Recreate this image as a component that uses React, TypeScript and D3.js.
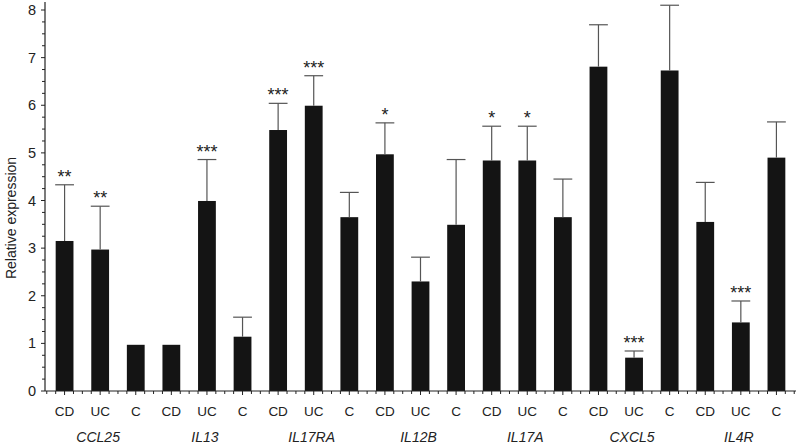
import React from "react";
import * as d3 from "d3";

const genes = ["CCL25", "IL13", "IL17RA", "IL12B", "IL17A", "CXCL5", "IL4R"];
const groups = ["CD", "UC", "C"];
const means = [3.15, 2.97, 0.97, 0.97, 3.99, 1.14, 5.48, 5.99, 3.65, 4.97, 2.3, 3.49, 4.84, 4.84, 3.65, 6.81, 0.7, 6.73, 3.55, 1.44, 4.9];
const upper = [4.33, 3.88, null, null, 4.86, 1.55, 6.04, 6.62, 4.17, 5.63, 2.81, 4.86, 5.56, 5.56, 4.45, 7.69, 0.84, 8.1, 4.38, 1.89, 5.65];
const stars = ["**", "**", "", "", "***", "", "***", "***", "", "*", "", "", "*", "*", "", "", "***", "", "", "***", ""];
const yTicks = [0, 1, 2, 3, 4, 5, 6, 7, 8];

export default function App() {
  const W = 800, H = 443;
  const x0 = 45, x1 = 796, yTop = 10, yBot = 391;
  const n = means.length;
  const x = d3.scaleBand<number>().domain(d3.range(n)).range([x0, x1]).paddingInner(0.5).paddingOuter(0.3);
  const y = d3.scaleLinear().domain([0, 8]).range([yBot, yTop]);
  const step = x.step();
  const bw = x.bandwidth();
  const cx = (i: number) => (x(i) as number) + bw / 2;
  const minorY = d3.range(0, 8.001, 0.25);
  const xMinor: number[] = [];
  for (let i = 0; i < n; i++) for (let k = -2; k < 2; k++) xMinor.push(cx(i) + (k * step) / 4);
  xMinor.push(cx(n - 1) + step / 2);
  const font = "'Liberation Sans', Arial, Helvetica, sans-serif";
  return (
    <svg width={W} height={H} style={{ position: "absolute", left: 0, top: 0, background: "#fff" }} fontFamily={font}>
      {means.map((v, i) => (
        <rect key={"b" + i} x={x(i)} y={y(v)} width={bw} height={y(0) - y(v)} fill="#141414" />
      ))}
      {upper.map((u, i) =>
        u == null ? null : (
          <g key={"e" + i} stroke="#555" strokeWidth={1.2}>
            <line x1={cx(i)} x2={cx(i)} y1={y(means[i])} y2={y(u)} />
            <line x1={cx(i) - bw / 2 - 0.5} x2={cx(i) + bw / 2 + 0.5} y1={y(u)} y2={y(u)} />
          </g>
        )
      )}
      {stars.map((s, i) =>
        s ? (
          <text key={"s" + i} x={cx(i)} y={y(upper[i] as number) - 2} textAnchor="middle" fontSize={18} fill="#222">
            {s}
          </text>
        ) : null
      )}
      <line x1={x0} x2={x0} y1={yTop - 8} y2={yBot} stroke="#222" strokeWidth={1.2} />
      {minorY.map((t, i) => (
        <line key={"ym" + i} x1={x0 - (Number.isInteger(t) ? 4 : 3)} x2={x0} y1={y(t)} y2={y(t)} stroke="#222" strokeWidth={1} />
      ))}
      {yTicks.map((t) => (
        <text key={"yt" + t} x={x0 - 9} y={y(t)} dy="0.35em" textAnchor="end" fontSize={14.5} fill="#222">
          {t}
        </text>
      ))}
      <text transform={`translate(16,218) rotate(-90)`} textAnchor="middle" fontSize={14} fill="#222">
        Relative expression
      </text>
      <line x1={x0} x2={x1} y1={yBot} y2={yBot} stroke="#222" strokeWidth={1.2} />
      {xMinor.map((p, i) => (
        <line key={"xm" + i} x1={p} x2={p} y1={yBot} y2={yBot + (i % 4 === 2 ? 4 : 3)} stroke="#222" strokeWidth={1} />
      ))}
      {means.map((_, i) => (
        <text key={"xl" + i} x={cx(i)} y={415.5} textAnchor="middle" fontSize={13.5} fill="#222">
          {groups[i % 3]}
        </text>
      ))}
      {genes.map((g, j) => (
        <text key={"g" + j} x={cx(j * 3 + 1) - 2} y={441.5} textAnchor="middle" fontSize={14} fontStyle="italic" fill="#222">
          {g}
        </text>
      ))}
    </svg>
  );
}
